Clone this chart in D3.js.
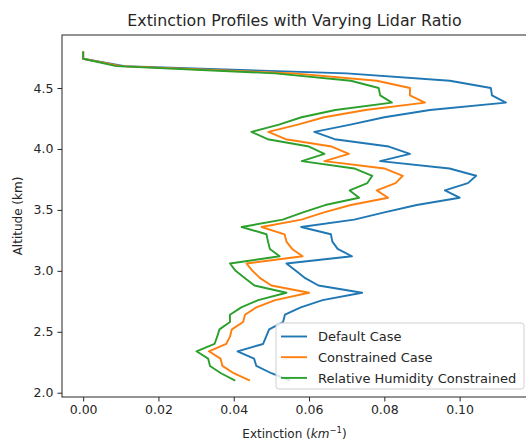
<!DOCTYPE html>
<html>
<head>
<meta charset="utf-8">
<script src="https://cdn.jsdelivr.net/npm/d3@7"></script>
<style>
  body { margin: 0; background: #fff; }
  svg { display: block; font-family: "DejaVu Sans", sans-serif; }
</style>
</head>
<body>
<svg id="chart" width="526" height="441"></svg>
<script>
// altitude levels (km), top to bottom
const altitude = [4.80, 4.74, 4.68, 4.62, 4.56, 4.50, 4.44, 4.38, 4.32, 4.26, 4.20, 4.14, 4.08, 4.02, 3.96, 3.90,
    3.84, 3.78, 3.72, 3.66, 3.60, 3.54, 3.48, 3.42, 3.36, 3.30, 3.24, 3.18, 3.12, 3.06, 3.00, 2.94,
    2.88, 2.82, 2.76, 2.70, 2.64, 2.58, 2.52, 2.46, 2.40, 2.34, 2.28, 2.22, 2.16, 2.10];

const defaultCase = [0, 0, 0.011, 0.070, 0.0974, 0.1083, 0.1086, 0.1123, 0.0921, 0.080, 0.071, 0.0614, 0.0668, 0.0812, 0.0868, 0.0789,
    0.0973, 0.1044, 0.1022, 0.0961, 0.1000, 0.0886, 0.080, 0.072, 0.0579, 0.0658, 0.0662, 0.0676, 0.0714, 0.054, 0.0565, 0.059,
    0.0625, 0.0741, 0.0636, 0.0578, 0.0536, 0.0531, 0.0494, 0.0486, 0.0478, 0.041, 0.0454, 0.046, 0.050, 0.055];

const constrainedCase = [0, 0, 0.010, 0.056, 0.078, 0.0868, 0.0868, 0.0908, 0.075, 0.064, 0.057, 0.0492, 0.0538, 0.066, 0.0706, 0.0641,
    0.080, 0.0849, 0.0830, 0.0780, 0.0810, 0.0711, 0.064, 0.058, 0.0474, 0.0535, 0.054, 0.0555, 0.0583, 0.0434, 0.045, 0.047,
    0.050, 0.060, 0.051, 0.046, 0.043, 0.0425, 0.0395, 0.039, 0.038, 0.0334, 0.0365, 0.037, 0.040, 0.0443];

const humidityCase = [0, 0, 0.0088, 0.051, 0.0711, 0.0785, 0.0789, 0.082, 0.067, 0.058, 0.052, 0.0447, 0.049, 0.060, 0.0641, 0.0581,
    0.072, 0.0768, 0.0755, 0.0708, 0.0733, 0.0643, 0.0584, 0.053, 0.0421, 0.0487, 0.0491, 0.0496, 0.0522, 0.039, 0.0405, 0.043,
    0.0455, 0.054, 0.0465, 0.042, 0.039, 0.039, 0.0362, 0.0356, 0.0349, 0.0301, 0.0332, 0.0337, 0.0366, 0.0404];

const seriesNames = ["Default Case", "Constrained Case", "Relative Humidity Constrained"];
const seriesColors = ["#1f77b4", "#ff7f0e", "#2ca02c"];
const xTicks = [0, 0.02, 0.04, 0.06, 0.08, 0.10];
const yTicks = [2.0, 2.5, 3.0, 3.5, 4.0, 4.5];

const margin = { top: 35, right: -1, bottom: 44, left: 62 };
const width = 526 - margin.left - margin.right;
const height = 441 - margin.top - margin.bottom;
const textColor = "#262626";

const svg = d3.select("#chart");
const g = svg.append("g").attr("transform", `translate(${margin.left},${margin.top})`);

const x = d3.scaleLinear().domain([-0.00562, 0.1179]).range([0, width]);
const y = d3.scaleLinear().domain([1.965, 4.935]).range([height, 0]);

// lines
const allSeries = [defaultCase, constrainedCase, humidityCase];
const line = d3.line()
    .x(d => x(d[0]))
    .y(d => y(d[1]));

allSeries.forEach((vals, i) => {
    g.append("path")
        .datum(vals.map((v, j) => [v, altitude[j]]))
        .attr("d", line)
        .attr("fill", "none")
        .attr("stroke", seriesColors[i])
        .attr("stroke-width", 1.9)
        .attr("stroke-linejoin", "round");
});

// axes
const xAxis = g.append("g")
    .attr("transform", `translate(0,${height})`)
    .call(d3.axisBottom(x).tickValues(xTicks).tickFormat(d3.format(".2f")).tickSizeOuter(0).tickSize(4.5).tickPadding(4));
const yAxis = g.append("g")
    .call(d3.axisLeft(y).tickValues(yTicks).tickFormat(d3.format(".1f")).tickSizeOuter(0).tickSize(4.5).tickPadding(4));

[xAxis, yAxis].forEach(ax => {
    ax.selectAll("text").style("font-size", "12.5px").attr("fill", textColor).style("font-family", "DejaVu Sans");
    ax.selectAll(".tick line").attr("stroke", textColor).attr("stroke-width", 1);
    ax.select(".domain").remove();
});

// frame
g.append("rect")
    .attr("x", 0).attr("y", 0)
    .attr("width", width).attr("height", height)
    .attr("fill", "none")
    .attr("stroke", textColor)
    .attr("stroke-width", 1);

// title
svg.append("text")
    .attr("x", margin.left + width / 2)
    .attr("y", 26)
    .attr("text-anchor", "middle")
    .attr("fill", textColor)
    .style("font-size", "15.8px")
    .text("Extinction Profiles with Varying Lidar Ratio");

// x label
const xl = svg.append("text")
    .attr("x", margin.left + width / 2)
    .attr("y", 438)
    .attr("text-anchor", "middle")
    .attr("fill", textColor)
    .style("font-size", "12px");
xl.append("tspan").text("Extinction (");
xl.append("tspan").style("font-style", "italic").text("km");
xl.append("tspan").attr("dy", -5).style("font-size", "8.5px").text("\u22121");
xl.append("tspan").attr("dy", 5).text(")");

// y label
svg.append("text")
    .attr("transform", `translate(22,${margin.top + height / 2}) rotate(-90)`)
    .attr("text-anchor", "middle")
    .attr("fill", textColor)
    .style("font-size", "12px")
    .text("Altitude (km)");

// legend
const legend = g.append("g").attr("transform", `translate(${276 - margin.left},${323 - margin.top})`);
legend.append("rect")
    .attr("width", 248).attr("height", 66)
    .attr("rx", 3)
    .attr("fill", "rgba(255,255,255,0.8)")
    .attr("stroke", "#d0d0d0")
    .attr("stroke-width", 1);

seriesNames.forEach((name, i) => {
    const ly = 13.5 + i * 20.7;
    legend.append("line")
        .attr("x1", 5).attr("x2", 31)
        .attr("y1", ly).attr("y2", ly)
        .attr("stroke", seriesColors[i])
        .attr("stroke-width", 1.9);
    legend.append("text")
        .attr("x", 42).attr("y", ly + 4.6)
        .attr("fill", textColor)
        .style("font-size", "13px")
        .text(name);
});
</script>
</body>
</html>
